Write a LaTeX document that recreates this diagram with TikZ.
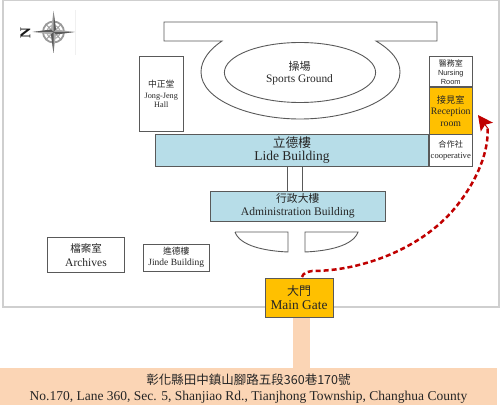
\documentclass[tikz,border=0pt]{standalone}
\usepackage{fontspec}
\setmainfont{Liberation Serif}
\newfontfamily\cjk{Noto Sans CJK TC}
\newfontfamily\lsans{Liberation Sans}
\usetikzlibrary{arrows.meta}
\definecolor{edge}{HTML}{595959}
\definecolor{frameC}{HTML}{CFCFCF}
\definecolor{blueB}{HTML}{B7DDE8}
\definecolor{goldB}{HTML}{FFC000}
\definecolor{peachB}{HTML}{FBD5B5}
\definecolor{redA}{HTML}{C00000}
\newcommand{\fs}[1]{\fontsize{#1}{#1}\selectfont}
\tikzset{
  bldg/.style={draw=edge,line width=1pt,fill=white,inner sep=0pt,outer sep=0pt,align=center,anchor=north west,text=black!85},
  blue/.style={bldg,fill=blueB},
  gold/.style={bldg,fill=goldB},
  ground/.style={draw=edge,line width=0.9pt},
  route/.style={draw=redA,line width=2.5pt,dash pattern=on 5pt off 3pt},
  sz/.style 2 args={minimum width=#1pt,minimum height=#2pt}
}
\begin{document}
\begin{tikzpicture}[x=1pt,y=-1pt]
\useasboundingbox (0,0) rectangle (500,409);
% frame
\draw[frameC,line width=1.2pt] (3,0.6) rectangle (499,307);
% address band and stem
\fill[peachB] (292.5,318) rectangle (310,368);
\node[fill=peachB,inner sep=0pt,outer sep=0pt,anchor=north west,sz={497}{37},align=center,text=black!85] (addr) at (0,368)
  {\rule{0pt}{14pt}{\cjk\fs{12.5}彰化縣田中鎮山腳路五段360巷170號}\\[4pt]{\fs{13.5}No.170, Lane 360, Sec. 5, Shanjiao Rd., Tianjhong Township, Changhua County}};
% sports ground
\draw[ground] (164,22) -- (437,22) -- (437,41) -- (376,41)
  .. controls (391,50) and (400,60) .. (400,72)
  .. controls (400,100) and (350,119) .. (300,119)
  .. controls (250,119) and (201,100) .. (201,72)
  .. controls (201,60) and (210,49) .. (222,41) -- (164,41) -- cycle;
\draw[ground] (300,72.5) ellipse [x radius=75.6,y radius=30];
\node[align=center,inner sep=0pt,text=black!85] (sports) at (299.5,73.5) {{\cjk\fs{11}操場}\\[0pt]{\fs{11.4}Sports Ground}};
% buildings
\node[bldg,sz={43.5}{74}] (jong) at (139.5,57) {{\cjk\fs{8.8}中正堂}\\[-1pt]{\fs{8.2}Jong-Jeng}\\[-3.5pt]{\fs{8.2}Hall}};
\draw[ground] (287,166) -- (287,191) (302,166) -- (302,191);
\node[blue,sz={273}{31.5}] (lide) at (155.5,134.5) {{\cjk\fs{12.7}立德樓}\\[1.5pt]{\fs{13.5}Lide Building}};
\node[bldg,sz={43.5}{30}] (nursing) at (429,57) {{\cjk\fs{8}醫務室}\\[-3pt]{\lsans\fs{7.4}Nursing}\\[-3pt]{\lsans\fs{7.4}Room}};
\node[gold,sz={43.5}{47}] (recep) at (429,87.5) {{\cjk\fs{9.2}接見室}\\[-0.5pt]{\fs{9.8}Reception}\\[-0.5pt]{\fs{9.8}room}};
\node[bldg,sz={43.5}{31.5}] (coop) at (429,134.5) {{\cjk\fs{8.2}合作社}\\[-1.5pt]{\fs{8.6}cooperative}};
\node[blue,sz={174.5}{30}] (admin) at (210.5,191) {{\cjk\fs{10.8}行政大樓}\\[1pt]{\fs{11.6}Administration Building}};
\draw[ground] (235,232) -- (288,232) -- (288,252) .. controls (265,251) and (240,246) .. (235,232);
\draw[ground] (305,232) -- (358,232) .. controls (353,246) and (328,251) .. (305,252) -- cycle;
\node[bldg,sz={77}{35.5}] (arch) at (47.5,237) {{\cjk\fs{10.5}檔案室}\\[2pt]{\fs{11.5}Archives}};
\node[bldg,sz={65.5}{27}] (jinde) at (143.5,244) {{\cjk\fs{8.8}進德樓}\\[-1pt]{\fs{9.5}Jinde Building}};
\node[gold,sz={68}{39}] (gate) at (265,278) {{\cjk\fs{12}大門}\\[2pt]{\fs{13.4}Main Gate}};
% route
\coordinate (tail) at (487.5,128);
\coordinate (tip) at (478,115);
\path[route] (302,277) .. controls (303,273) and (307,272) .. (312,271)
  .. controls (360,271) and (420,250) .. (455,208)
  .. controls (478,180) and (489,150) .. (tail);
\draw[redA,line width=1pt,-{Stealth[length=15pt,width=15pt,inset=3pt]}] (tail) -- (tip);
% compass
\begin{scope}[shift={(53.5,32)}]
  \draw[gray!80,line width=1.8pt] (0,0) circle (10.5);
  \draw[gray!60,line width=1.2pt] (0,0) circle (6.5);
  \draw[gray!80,line width=.8pt] (-8,-8) -- (8,8) (-8,8) -- (8,-8);
  \fill[gray!65] (0,-21) -- (2.5,-2.5) -- (21,0) -- (2.5,2.5) -- (0,21) -- (-2.5,2.5) -- (-21,0) -- (-2.5,-2.5) -- cycle;
  \fill[black!65] (0,-21) -- (2.5,-2.5) -- (0,0) -- cycle
     (21,0) -- (2.5,2.5) -- (0,0) -- cycle
     (0,21) -- (-2.5,2.5) -- (0,0) -- cycle
     (-21,0) -- (-2.5,-2.5) -- (0,0) -- cycle;
\end{scope}
\draw[black!6,line width=.6pt] (75,10) -- (75,55);
\node[rotate=90,inner sep=0pt,font=\bfseries\fs{15},text=black!90] (north) at (25.5,33) {N};
\end{tikzpicture}
\end{document}
